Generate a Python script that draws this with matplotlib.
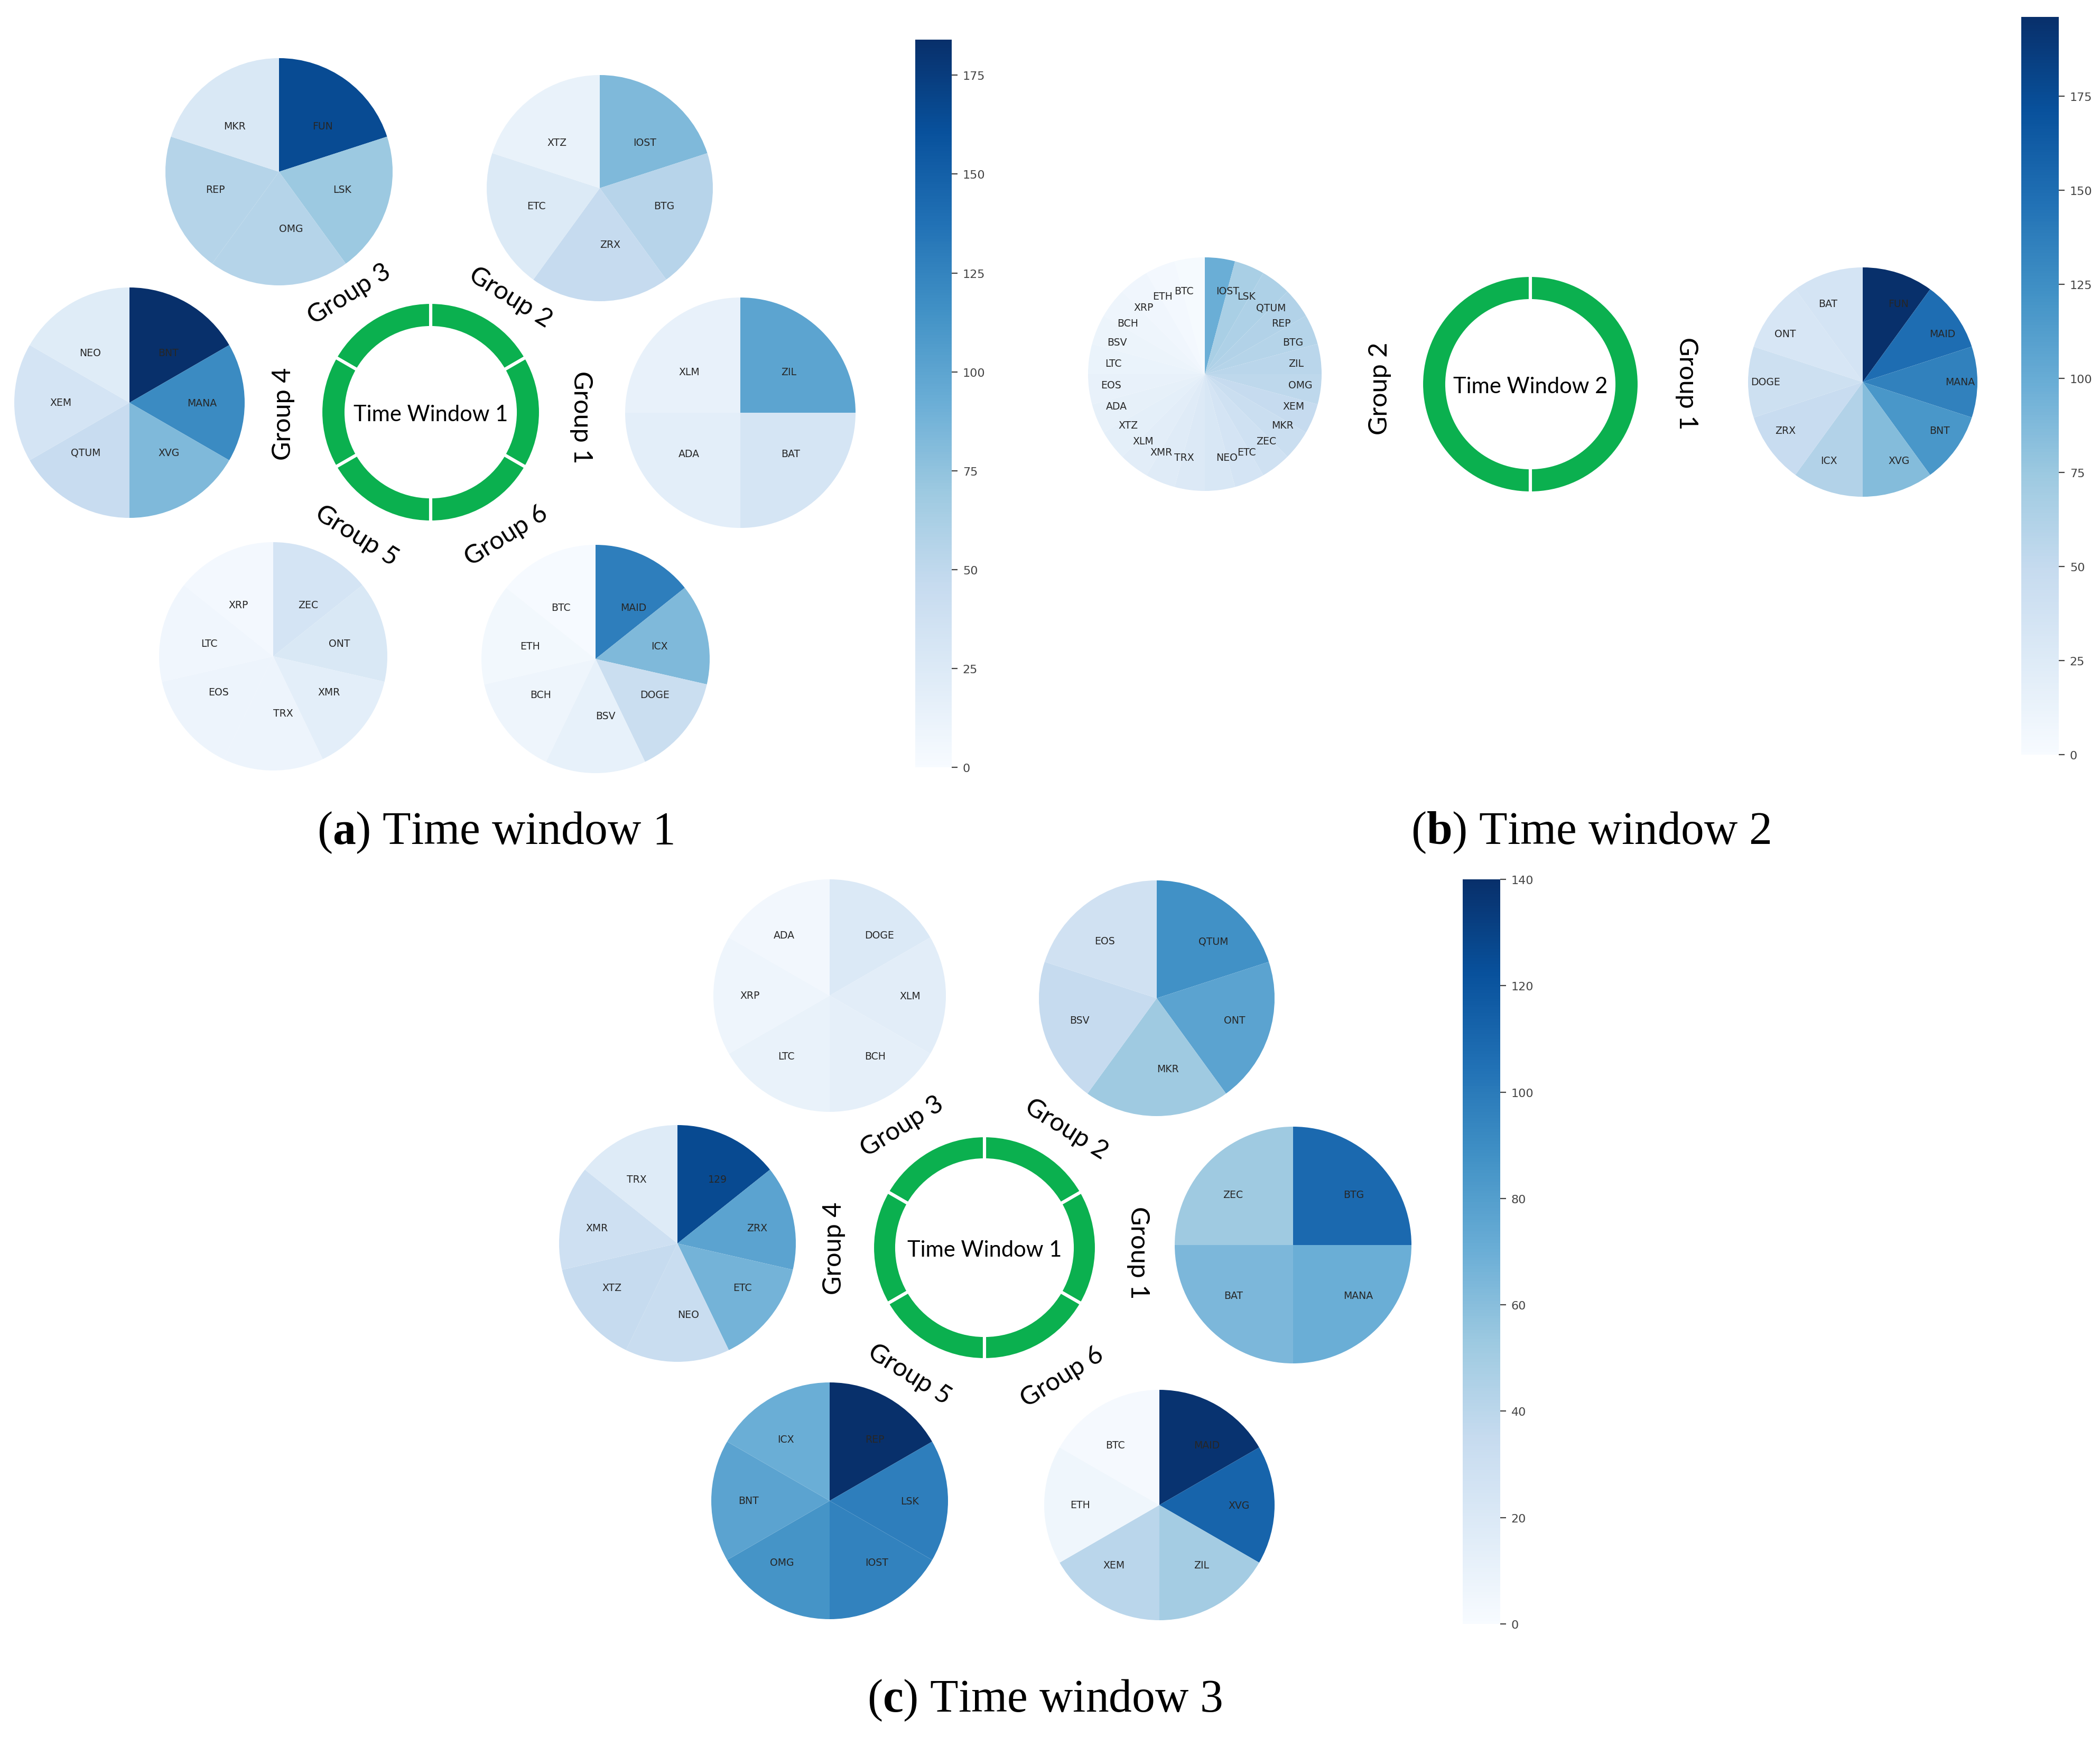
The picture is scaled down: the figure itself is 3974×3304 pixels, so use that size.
import numpy as np
import matplotlib
matplotlib.use('Agg')
import matplotlib.pyplot as plt
from matplotlib import colors, cm

W, H = 3974, 3305
DPI = 200
GREEN = '#0bb04f'

plt.rcParams['mathtext.fontset'] = 'custom'
plt.rcParams['mathtext.rm'] = 'Liberation Serif'
plt.rcParams['mathtext.bf'] = 'Liberation Serif:bold'

# ---------------- panel (a): time window 1 ----------------
a_vmax = 184
a_g1_names = ['ZIL', 'BAT', 'ADA', 'XLM']
a_g1_vals = [100, 32, 18, 14]
a_g2_names = ['IOST', 'BTG', 'ZRX', 'ETC', 'XTZ']
a_g2_vals = [83, 55, 46, 25, 13]
a_g3_names = ['FUN', 'LSK', 'OMG', 'REP', 'MKR']
a_g3_vals = [165, 70, 56, 56, 28]
a_g4_names = ['BNT', 'MANA', 'XVG', 'QTUM', 'XEM', 'NEO']
a_g4_vals = [184, 120, 83, 44, 33, 22]
a_g5_names = ['ZEC', 'ONT', 'XMR', 'TRX', 'EOS', 'LTC', 'XRP']
a_g5_vals = [33, 28, 18, 10, 10, 7, 4]
a_g6_names = ['MAID', 'ICX', 'DOGE', 'BSV', 'BCH', 'ETH', 'BTC']
a_g6_vals = [129, 83, 42, 15, 8, 5, 1]

# ---------------- panel (b): time window 2 ----------------
b_vmax = 196
b_g1_names = ['FUN', 'MAID', 'MANA', 'BNT', 'XVG', 'ICX', 'ZRX', 'DOGE', 'ONT', 'BAT']
b_g1_vals = [196, 150, 135, 118, 86, 62, 47, 42, 32, 35]
b_g2_names = ['IOST', 'LSK', 'QTUM', 'REP', 'BTG', 'ZIL', 'OMG', 'XEM', 'MKR', 'ZEC',
              'ETC', 'NEO', 'TRX', 'XMR', 'XLM', 'XTZ', 'ADA', 'EOS', 'LTC', 'BSV',
              'BCH', 'XRP', 'ETH', 'BTC']
b_g2_vals = [98, 67, 64, 62, 59, 56, 54, 49, 45, 40,
             35, 31, 27, 24, 21, 19, 17, 15, 13, 11,
             9, 7, 4, 2]

# ---------------- panel (c): time window 3 ----------------
c_vmax = 140
c_g1_names = ['BTG', 'MANA', 'BAT', 'ZEC']
c_g1_vals = [109, 70, 64, 52]
c_g2_names = ['QTUM', 'ONT', 'MKR', 'BSV', 'EOS']
c_g2_vals = [88, 77, 52, 35, 28]
c_g3_names = ['DOGE', 'XLM', 'BCH', 'LTC', 'XRP', 'ADA']
c_g3_vals = [20, 15, 13, 10, 7, 4]
c_g4_names = ['129', 'ZRX', 'ETC', 'NEO', 'XTZ', 'XMR', 'TRX']
c_g4_vals = [126, 77, 67, 33, 35, 29, 18]
c_g5_names = ['REP', 'LSK', 'IOST', 'OMG', 'BNT', 'ICX']
c_g5_vals = [140, 98, 96, 86, 77, 70]
c_g6_names = ['MAID', 'XVG', 'ZIL', 'XEM', 'ETH', 'BTC']
c_g6_vals = [138, 112, 50, 40, 6, 2]

cmap = plt.get_cmap('Blues')

fig = plt.figure(figsize=(W / DPI, H / DPI), dpi=DPI)
bg = fig.add_axes([0, 0, 1, 1])
bg.set_xlim(0, W)
bg.set_ylim(H, 0)
bg.axis('off')


def box(cx, cy, r):
    # square axes (in pixels) centred at cx, cy; pie radius 1 -> r pixels
    s = 1.25 * r
    return [(cx - s) / W, (H - cy - s) / H, 2 * s / W, 2 * s / H]


def draw_pie(names, vals, cx, cy, r, norm, ld):
    ax = fig.add_axes(box(cx, cy, r))
    wedges, texts = ax.pie(np.ones(len(vals)), labels=names,
                           colors=cmap(norm(np.array(vals))),
                           startangle=90, counterclock=False, labeldistance=ld,
                           textprops=dict(fontsize=6.8, color='#262626'),
                           wedgeprops=dict(linewidth=0))
    # label straight below the centre: keep it left aligned
    for t in texts:
        if abs(t.get_position()[0]) < 1e-6:
            t.set_ha('left')


def draw_ring(cx, cy, r, width, n, start, title):
    ax = fig.add_axes(box(cx, cy, r))
    ax.pie(np.ones(n), colors=[GREEN] * n, startangle=start,
           wedgeprops=dict(width=width / r, edgecolor='white', linewidth=2.2))
    bg.text(cx, cy + 4, title, ha='center', va='center', fontsize=15,
            family='Lato')


def group_labels(labels):
    for txt, x, y, rot in labels:
        bg.text(x, y, txt, ha='center', va='center', rotation=rot,
                fontsize=17.5, family='Lato', rotation_mode='anchor')


def draw_cbar(x0, x1, y0, y1, vmax, ticks):
    cax = fig.add_axes([x0 / W, (H - y1) / H, (x1 - x0) / W, (y1 - y0) / H])
    sm = cm.ScalarMappable(norm=colors.Normalize(0, vmax), cmap=cmap)
    cb = fig.colorbar(sm, cax=cax, ticks=ticks)
    cb.outline.set_visible(False)
    cax.tick_params(labelsize=8, colors='#444444', length=4, width=0.8)


def caption(x, y, letter, txt):
    bg.text(x, y, r'($\mathbf{' + letter + r'}$) ' + txt, ha='center',
            va='center', fontsize=31.5, family='Liberation Serif')


# panel (a)
na = colors.Normalize(0, a_vmax)
draw_ring(815, 781, 208, 48, 6, 30, 'Time Window 1')
draw_pie(a_g1_names, a_g1_vals, 1401, 782, 218, na, 0.5)
draw_pie(a_g2_names, a_g2_vals, 1135, 357, 214, na, 0.5)
draw_pie(a_g3_names, a_g3_vals, 528, 326, 215, na, 0.5)
draw_pie(a_g4_names, a_g4_vals, 245, 763, 218, na, 0.5)
draw_pie(a_g5_names, a_g5_vals, 517, 1243, 216, na, 0.5)
draw_pie(a_g6_names, a_g6_vals, 1127, 1248, 216, na, 0.5)
group_labels([('Group 1', 1100, 790, -90), ('Group 2', 966, 563, -32),
              ('Group 3', 661, 557, 32), ('Group 4', 536, 783, 90),
              ('Group 5', 675, 1014, -32), ('Group 6', 958, 1014, 32)])
draw_cbar(1732, 1801, 76, 1453, a_vmax, np.arange(0, 176, 25))
caption(937, 1576, 'a', 'Time window 1')

# panel (b)
nb = colors.Normalize(0, b_vmax)
draw_ring(2896, 728, 206, 48, 2, 90, 'Time Window 2')
draw_pie(b_g2_names, b_g2_vals, 2280, 709, 221, nb, 0.72)
draw_pie(b_g1_names, b_g1_vals, 3525, 724, 217, nb, 0.72)
group_labels([('Group 2', 2611, 735, 90), ('Group 1', 3192, 726, -90)])
draw_cbar(3825, 3896, 33, 1429, b_vmax, np.arange(0, 176, 25))
caption(3010, 1576, 'b', 'Time window 2')

# panel (c)
nc = colors.Normalize(0, c_vmax)
draw_ring(1863, 2362, 212, 46, 6, 30, 'Time Window 1')
draw_pie(c_g1_names, c_g1_vals, 2447, 2357, 224, nc, 0.6)
draw_pie(c_g2_names, c_g2_vals, 2189, 1890, 223, nc, 0.6)
draw_pie(c_g3_names, c_g3_vals, 1570, 1885, 220, nc, 0.6)
draw_pie(c_g4_names, c_g4_vals, 1282, 2354, 224, nc, 0.6)
draw_pie(c_g5_names, c_g5_vals, 1570, 2841, 224, nc, 0.6)
draw_pie(c_g6_names, c_g6_vals, 2194, 2849, 218, nc, 0.6)
group_labels([('Group 1', 2154, 2371, -90), ('Group 2', 2018, 2137, -32),
              ('Group 3', 1707, 2132, 32), ('Group 4', 1578, 2362, 90),
              ('Group 5', 1721, 2601, -32), ('Group 6', 2010, 2606, 32)])
draw_cbar(2768, 2839, 1665, 3074, c_vmax, np.arange(0, 141, 20))
caption(1977, 3218, 'c', 'Time window 3')

fig.savefig('out.png', dpi=DPI)
